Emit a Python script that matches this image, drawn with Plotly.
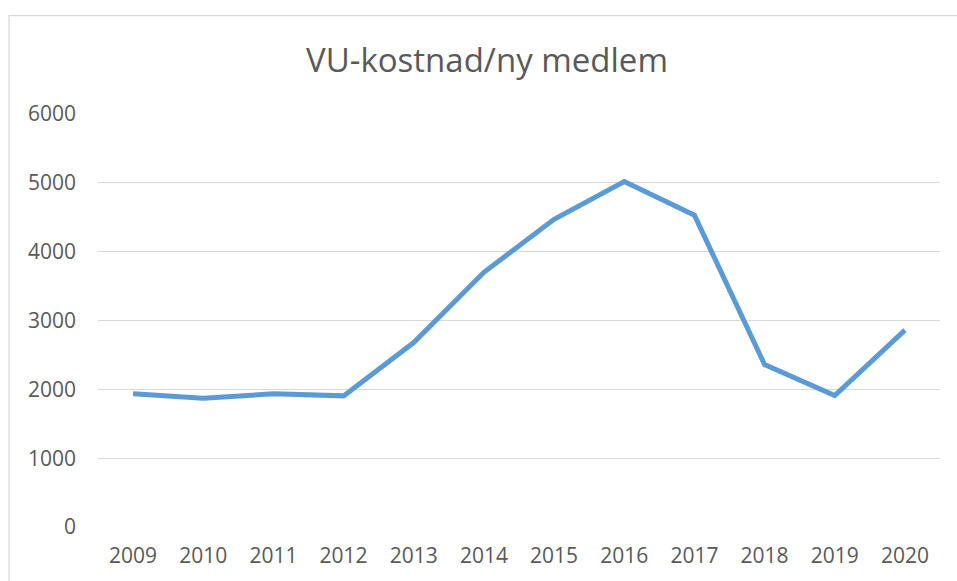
import plotly.graph_objects as go

years = ["2009", "2010", "2011", "2012", "2013", "2014", "2015", "2016", "2017", "2018", "2019", "2020"]
values = [1935, 1870, 1935, 1905, 2680, 3700, 4470, 5020, 4530, 2360, 1910, 2860]
y_ticks = [0, 1000, 2000, 3000, 4000, 5000, 6000]
title_text = "VU-kostnad/ny medlem"

W, H = 957, 581
L, T = 97.5, 114
R = W - 940
B = H - 529.5
pw, ph = W - L - R, H - T - B

def px_to_paper_x(px):
    return (px - L) / pw

def px_to_paper_y(py):
    return (H - B - py) / ph

fig = go.Figure()
fig.add_trace(go.Scatter(
    x=years, y=values, mode="lines",
    line=dict(color="#5B9BD5", width=5, shape="linear"),
    hoverinfo="x+y",
))

fig.update_layout(
    width=W, height=H,
    margin=dict(l=L, r=R, t=T, b=B, pad=0),
    paper_bgcolor="white", plot_bgcolor="white",
    showlegend=False,
    font=dict(family="Open Sans, Segoe UI, sans-serif", color="#595959"),
    title=dict(text=title_text, x=487 / W, xanchor="center", xref="container",
               y=1 - 60 / H, yanchor="middle", yref="container",
               font=dict(size=33, color="#595959")),
    xaxis=dict(type="category", showgrid=False, zeroline=False, showline=False,
               ticks="", tickfont=dict(size=21, color="#595959"),
               range=[-0.5, len(years) - 0.5], ticklabelstandoff=14),
    yaxis=dict(range=[0, 6000], tickvals=y_ticks, ticktext=[str(v) for v in y_ticks],
               showgrid=True, gridcolor="#d9d9d9", gridwidth=1.3, zeroline=False,
               showline=False, ticks="", tickfont=dict(size=21, color="#595959"),
               ticklabelstandoff=21),
    shapes=[dict(type="rect", xref="paper", yref="paper",
                 x0=px_to_paper_x(8.5), x1=px_to_paper_x(1000),
                 y0=px_to_paper_y(620), y1=px_to_paper_y(15),
                 line=dict(color="#d9d9d9", width=1.3), fillcolor="rgba(0,0,0,0)",
                 layer="below")],
)

fig.write_html(
    "out.html",
    config={"displayModeBar": False},
    post_script="document.body.style.margin='0';"
                "document.body.style.overflow='hidden';"
                "document.documentElement.style.overflow='hidden';",
)
